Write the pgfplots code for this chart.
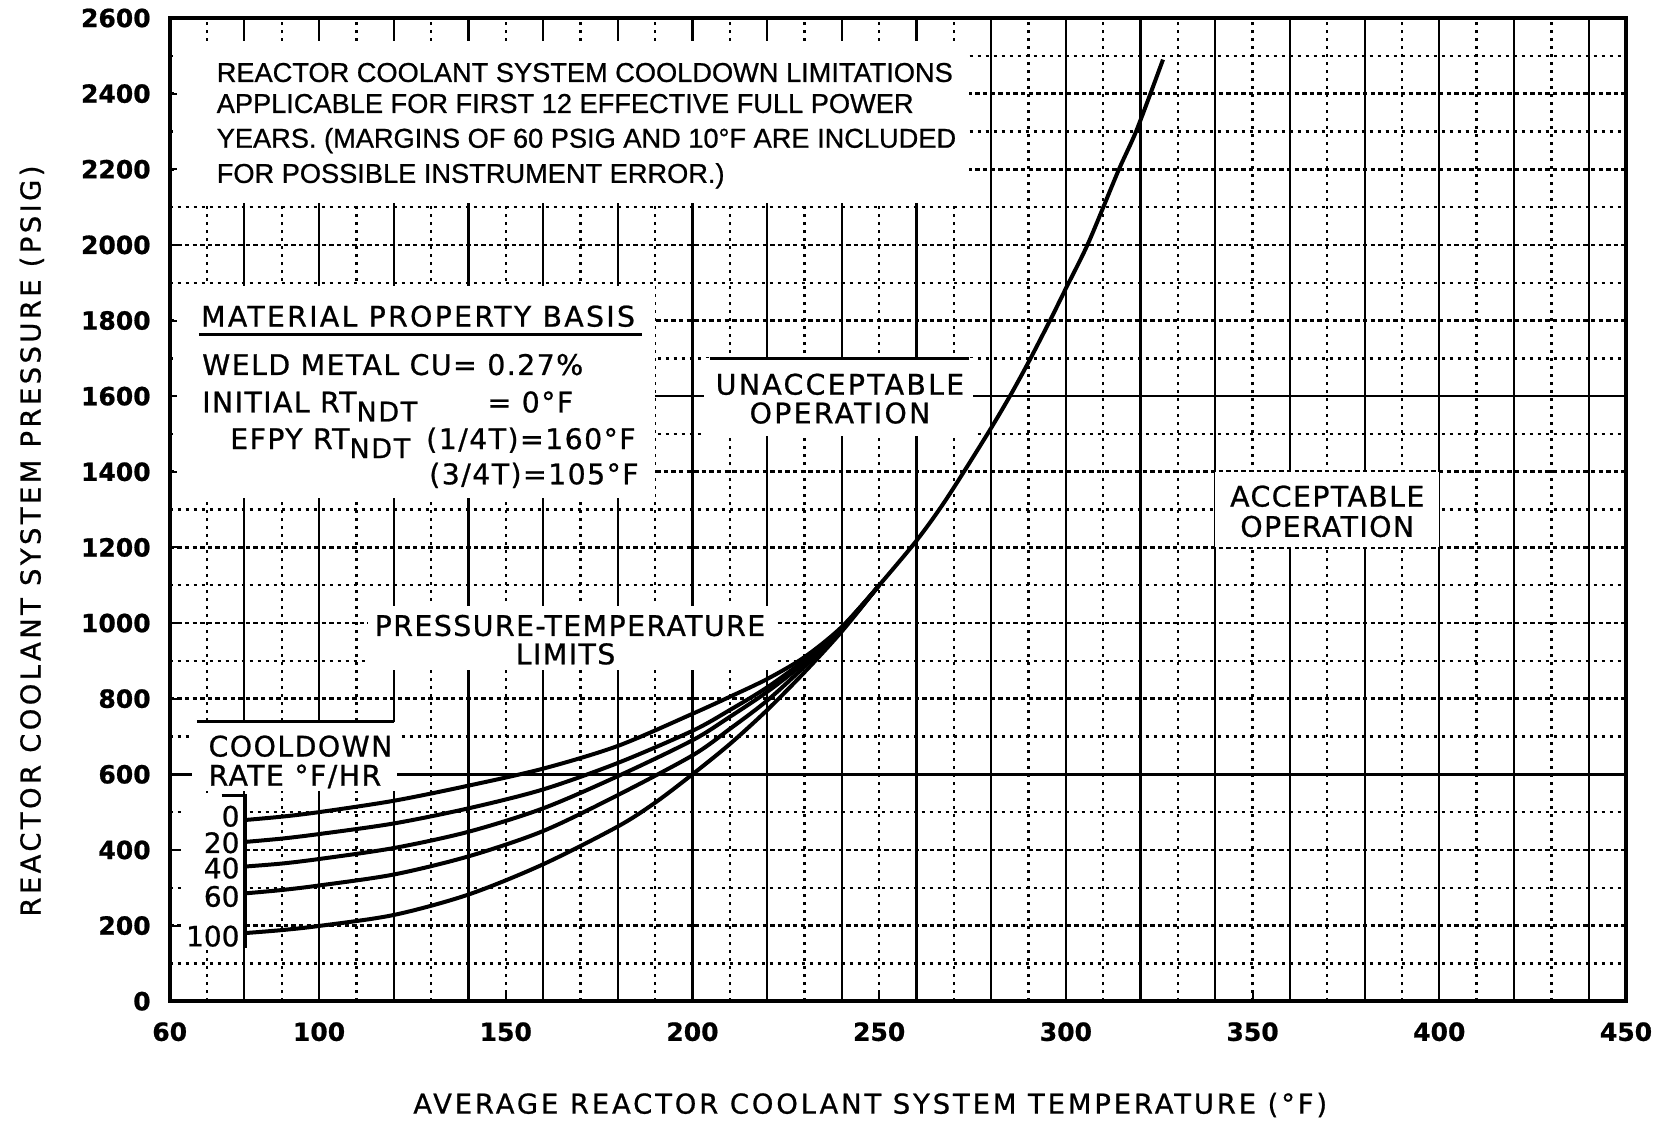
\documentclass[border=0pt]{standalone}
\usepackage{fontspec}
\setmainfont{DejaVu Sans}[FakeBold=0.8]
\newfontfamily\titlefont{Liberation Sans}[FakeBold=0.8]
\usepackage{pgfplots}
\pgfplotsset{compat=1.18}

% label fonts
\newcommand{\lblfont}{\fontsize{14.2}{17}\selectfont\addfontfeatures{LetterSpace=5}}
\newcommand{\wideblfont}{\fontsize{14.2}{17}\selectfont\addfontfeatures{LetterSpace=8}}
\newcommand{\ttlfont}{\titlefont\fontsize{13.6}{16}\selectfont}
\newcommand{\ndt}{\raisebox{-4.5pt}{\fontsize{13.5}{14}\selectfont\addfontfeatures{LetterSpace=6}NDT}}

\begin{document}
\begin{tikzpicture}
\useasboundingbox (0,0) rectangle (831.5pt,562pt);
\begin{axis}[
  at={(84.85pt,61.4pt)}, anchor=south west,
  scale only axis, width=728.15pt, height=491.6pt,
  xmin=60, xmax=450, ymin=0, ymax=2600,
  xtick={60,100,150,200,250,300,350,400,450},
  ytick={0,200,...,2600},
  minor xtick={70,90,...,430},
  minor ytick={100,300,...,2500},
  extra x ticks={80,100,...,440},
  extra x tick labels={},
  extra x tick style={grid=major, major grid style={black, solid, line width=1.1pt}, major tick length=0pt},
  extra y ticks={600,1600},
  extra y tick labels={},
  extra y tick style={grid=major, major grid style={black, solid, line width=1.2pt}, major tick length=0pt},
  xmajorgrids=false, xminorgrids=true, ymajorgrids=true, yminorgrids=true,
  major grid style={black, line width=1.3pt, dash pattern=on 2.2pt off 1.6pt},
  minor grid style={black, line width=1.2pt, dash pattern=on 1.8pt off 2.2pt},
  axis line style={line width=2pt},
  xtick pos=bottom, ytick pos=left,
  major tick length=5pt, minor tick length=0pt,
  tick style={black, line width=1pt},
  scaled ticks=false,
  /pgf/number format/assume math mode=true,
  /pgf/number format/1000 sep={},
  ticklabel style={font=\fontsize{12.5}{14}\selectfont\bfseries},
  xticklabel style={yshift=-7pt},
  yticklabel style={xshift=-6pt},
  xlabel={AVERAGE REACTOR COOLANT SYSTEM TEMPERATURE (°F)},
  ylabel={REACTOR COOLANT SYSTEM PRESSURE (PSIG)},
  xlabel style={at={(axis description cs:0.481,-0.1056)}, anchor=center,
    font=\fontsize{13.7}{16}\selectfont\addfontfeatures{LetterSpace=10.5}},
  ylabel style={at={(axis description cs:-0.0946,0.468)}, anchor=center,
    font=\fontsize{13.7}{16}\selectfont\addfontfeatures{LetterSpace=12.5}},
]

% blank areas of the chart paper behind the annotations
\fill[white] (axis cs:62,2110) rectangle (axis cs:274,2540);
\fill[white] (axis cs:62,1330) rectangle (axis cs:190,1890);
\fill[white] (axis cs:113,875) rectangle (axis cs:222,1045);
\fill[white] (axis cs:66,555) rectangle (axis cs:121,739);
\fill[white] (axis cs:63,140) rectangle (axis cs:79.6,545);
\fill[white] (axis cs:203,1495) rectangle (axis cs:275,1700);
\fill[white] (axis cs:340,1200) rectangle (axis cs:400,1400);

% rules around the annotations
\draw[line width=1.6pt] (axis cs:67.8,1762) -- (axis cs:186.5,1762);
\draw[line width=1.6pt] (axis cs:204.6,1700) -- (axis cs:274.1,1700);
\draw[line width=1.6pt] (axis cs:67.3,739) -- (axis cs:120,739);
\draw[line width=1.4pt] (axis cs:73.9,545) -- (axis cs:80.2,545) -- (axis cs:80.2,140);

% cooldown limit curves
\addplot[black, line width=2pt, smooth, tension=0.5] coordinates {
 (80,479) (90,488) (100,500) (120,530) (140,570) (160,615) (180,675)
 (200,760) (210,805) (220,852) (230,910) (240,990) (250,1100)};
\addplot[black, line width=2pt, smooth, tension=0.5] coordinates {
 (80,421) (90,430) (100,442) (120,470) (140,510) (160,560) (180,630)
 (200,715) (210,770) (220,830) (230,902) (240,988) (250,1100)};
\addplot[black, line width=2pt, smooth, tension=0.5] coordinates {
 (80,356) (90,364) (100,376) (120,405) (140,448) (160,510) (180,595)
 (200,690) (210,752) (220,818) (230,895) (240,985) (250,1100)};
\addplot[black, line width=2pt, smooth, tension=0.5] coordinates {
 (80,285) (90,294) (100,306) (120,335) (140,383) (160,450) (180,545)
 (200,650) (210,720) (220,795) (230,885) (240,982) (250,1100)};
\addplot[black, line width=2pt, smooth, tension=0.5] coordinates {
 (80,180) (90,188) (100,199) (120,228) (140,282) (160,362) (180,462)
 (190,525) (200,600) (210,680) (220,770) (230,870) (240,978) (250,1100)};
\addplot[black, line width=2pt, smooth, tension=0.5] coordinates {
 (250,1100) (260,1218) (268,1328) (279,1500) (285,1600) (290,1690)
 (296,1805) (300,1885) (306,2005) (314,2195) (319,2305) (326,2490)};

% notes
\node[anchor=base west, inner sep=0] at (axis cs:72.5,2431) {\ttlfont REACTOR COOLANT SYSTEM COOLDOWN LIMITATIONS};
\node[anchor=base west, inner sep=0] at (axis cs:72.5,2349) {\ttlfont APPLICABLE FOR FIRST 12 EFFECTIVE FULL POWER};
\node[anchor=base west, inner sep=0] at (axis cs:72.5,2257) {\ttlfont YEARS. (MARGINS OF 60 PSIG AND 10°F ARE INCLUDED};
\node[anchor=base west, inner sep=0] at (axis cs:72.5,2164) {\ttlfont FOR POSSIBLE INSTRUMENT ERROR.)};

\node[anchor=base west, inner sep=0] at (axis cs:68.3,1784) {\wideblfont MATERIAL PROPERTY BASIS};
\node[anchor=base west, inner sep=0] at (axis cs:68.6,1656) {\lblfont WELD METAL CU= 0.27\%};
\node[anchor=base west, inner sep=0] at (axis cs:68.6,1557) {\lblfont INITIAL RT\ndt};
\node[anchor=base west, inner sep=0] at (axis cs:145,1557) {\lblfont = 0°F};
\node[anchor=base west, inner sep=0] at (axis cs:76.1,1460) {\lblfont EFPY RT\ndt};
\node[anchor=base west, inner sep=0] at (axis cs:128.6,1460) {\lblfont (1/4T)=160°F};
\node[anchor=base west, inner sep=0] at (axis cs:129.4,1367) {\lblfont (3/4T)=105°F};

\node[anchor=base west, inner sep=0] at (axis cs:70.3,647) {\lblfont COOLDOWN};
\node[anchor=base west, inner sep=0] at (axis cs:70.3,570) {\lblfont RATE °F/HR};
\node[anchor=base east, inner sep=0] at (axis cs:78.8,462) {\fontsize{14}{16}\selectfont 0};
\node[anchor=base east, inner sep=0] at (axis cs:78.8,392) {\fontsize{14}{16}\selectfont 20};
\node[anchor=base east, inner sep=0] at (axis cs:78.8,325) {\fontsize{14}{16}\selectfont 40};
\node[anchor=base east, inner sep=0] at (axis cs:78.8,250) {\fontsize{14}{16}\selectfont 60};
\node[anchor=base east, inner sep=0] at (axis cs:78.8,145) {\fontsize{14}{16}\selectfont 100};

\node[anchor=base west, inner sep=0] at (axis cs:114.8,966) {\lblfont PRESSURE-TEMPERATURE};
\node[anchor=base, inner sep=0] at (axis cs:166,891) {\lblfont LIMITS};

\node[anchor=base, inner sep=0] at (axis cs:239.5,1604) {\wideblfont UNACCEPTABLE};
\node[anchor=base, inner sep=0] at (axis cs:239.5,1528) {\wideblfont OPERATION};

\node[anchor=base, inner sep=0] at (axis cs:370,1308) {\lblfont ACCEPTABLE};
\node[anchor=base, inner sep=0] at (axis cs:370,1228) {\lblfont OPERATION};
\end{axis}
\end{tikzpicture}
\end{document}
